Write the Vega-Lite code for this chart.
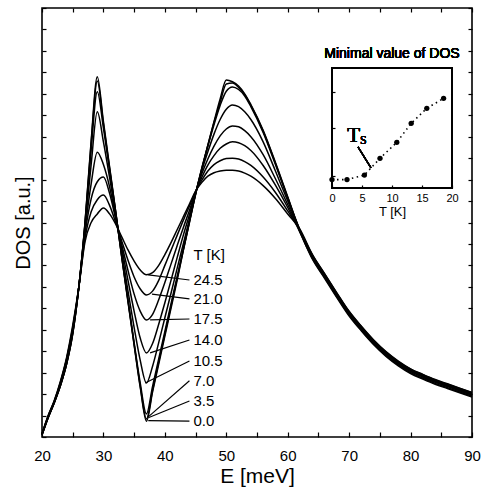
{
  "$schema": "https://vega.github.io/schema/vega-lite/v6.json",
  "width": 430,
  "height": 429,
  "autosize": {"type": "none"},
  "padding": {"left": 42, "top": 8, "right": 17, "bottom": 52},
  "background": "white",
  "config": {
    "view": {"stroke": "black", "strokeWidth": 1.6},
    "font": "Liberation Sans",
    "axis": {"labelColor": "black", "titleColor": "black", "tickColor": "black", "grid": false, "tickWidth": 1.2}
  },
  "resolve": {"scale": {"x": "independent", "y": "independent"}, "axis": {"x": "independent", "y": "independent"}},
  "layer": [
    {
      "resolve": {"axis": {"x": "independent", "y": "independent"}},
      "layer": [
        {
          "data": {"values": [
            {"E":20,"k0":0.5,"k35":0.5,"k70":0.5,"k105":0.6,"k140":0.6,"k175":0.7,"k210":0.7,"k245":0.8},
            {"E":21,"k0":4.5,"k35":4.5,"k70":4.5,"k105":4.6,"k140":4.7,"k175":4.8,"k210":4.9,"k245":5.0},
            {"E":22,"k0":8.0,"k35":8.0,"k70":8.0,"k105":8.1,"k140":8.2,"k175":8.3,"k210":8.4,"k245":8.5},
            {"E":23,"k0":12.0,"k35":12.0,"k70":12.0,"k105":12.2,"k140":12.4,"k175":12.6,"k210":12.8,"k245":13.0},
            {"E":24,"k0":17.0,"k35":17.0,"k70":17.0,"k105":17.3,"k140":17.7,"k175":18.0,"k210":18.2,"k245":18.5},
            {"E":25,"k0":24.0,"k35":24.1,"k70":24.2,"k105":24.5,"k140":25.0,"k175":25.2,"k210":25.5,"k245":26.0},
            {"E":26,"k0":35,"k35":35,"k70":35,"k105":35,"k140":35,"k175":35,"k210":35,"k245":35},
            {"E":27,"k0":50,"k35":49.8,"k70":49.5,"k105":49,"k140":48.2,"k175":47.3,"k210":46.3,"k245":45.5},
            {"E":28,"k0":69,"k35":68.5,"k70":67,"k105":63.5,"k140":59,"k175":55.5,"k210":52.5,"k245":50},
            {"E":29,"k0":84,"k35":83,"k70":80.5,"k105":75.8,"k140":66.4,"k175":59.5,"k210":55.3,"k245":52},
            {"E":30,"k0":73.5,"k35":73,"k70":72,"k105":68.8,"k140":63.5,"k175":60.6,"k210":56.4,"k245":53.4},
            {"E":31,"k0":63,"k35":62.7,"k70":62.2,"k105":60.5,"k140":58.3,"k175":56.8,"k210":54,"k245":52},
            {"E":32,"k0":52.5,"k35":52.4,"k70":52.3,"k105":51.8,"k140":51.3,"k175":50.8,"k210":50,"k245":49.6},
            {"E":33,"k0":41.7,"k35":41.8,"k70":42,"k105":43,"k140":44,"k175":44.7,"k210":45.6,"k245":46.6},
            {"E":34,"k0":31.5,"k35":31.7,"k70":32,"k105":34,"k140":36.5,"k175":38.8,"k210":41.2,"k245":43.6},
            {"E":35,"k0":21.4,"k35":21.6,"k70":22,"k105":25.5,"k140":29.3,"k175":33.3,"k210":37.3,"k245":41},
            {"E":36,"k0":11.5,"k35":11.8,"k70":12.5,"k105":17.8,"k140":23,"k175":29.3,"k210":34.5,"k245":38.9},
            {"E":37,"k0":3.7,"k35":4.2,"k70":5.4,"k105":12.6,"k140":19.6,"k175":27.3,"k210":33.1,"k245":37.8},
            {"E":38,"k0":10.5,"k35":10.9,"k70":11.8,"k105":16.5,"k140":21.8,"k175":28.6,"k210":34,"k245":38.3},
            {"E":39,"k0":17,"k35":17.5,"k70":18.2,"k105":22,"k140":26.3,"k175":32,"k210":36.5,"k245":40},
            {"E":40,"k0":23.5,"k35":24,"k70":24.6,"k105":27.8,"k140":31.3,"k175":36,"k210":40,"k245":42.5},
            {"E":41,"k0":30,"k35":30.5,"k70":31,"k105":33.5,"k140":36.5,"k175":40.3,"k210":43.5,"k245":45.3},
            {"E":42,"k0":36.5,"k35":37,"k70":37.4,"k105":39.3,"k140":41.8,"k175":44.6,"k210":47,"k245":48.3},
            {"E":43,"k0":43.5,"k35":43.5,"k70":43.8,"k105":45,"k140":47,"k175":48.8,"k210":50.5,"k245":51.3},
            {"E":44,"k0":50,"k35":50.1,"k70":50.3,"k105":50.8,"k140":51.8,"k175":52.8,"k210":53.8,"k245":54.3},
            {"E":45,"k0":56.5,"k35":56.6,"k70":56.7,"k105":56.8,"k140":57,"k175":57.1,"k210":57.2,"k245":57.3},
            {"E":46,"k0":62.3,"k35":62.5,"k70":62.6,"k105":62,"k140":61.3,"k175":60.5,"k210":59.8,"k245":59.3},
            {"E":47,"k0":68,"k35":68,"k70":67.8,"k105":66.5,"k140":64.8,"k175":63.4,"k210":62,"k245":60.8},
            {"E":48,"k0":73.5,"k35":73.3,"k70":72.8,"k105":70.6,"k140":67.8,"k175":65.6,"k210":63.5,"k245":61.6},
            {"E":49,"k0":78.8,"k35":78,"k70":77.3,"k105":74,"k140":70.2,"k175":67.3,"k210":64.4,"k245":62},
            {"E":50,"k0":83.2,"k35":82.3,"k70":80.6,"k105":76.4,"k140":71.8,"k175":68.3,"k210":64.9,"k245":62.2},
            {"E":51,"k0":82.8,"k35":82.5,"k70":81.6,"k105":77.4,"k140":72.5,"k175":68.8,"k210":65,"k245":62.2},
            {"E":52,"k0":81.8,"k35":81.5,"k70":81,"k105":77,"k140":72.3,"k175":68.6,"k210":64.8,"k245":62},
            {"E":53,"k0":80,"k35":79.8,"k70":79.5,"k105":75.8,"k140":71.4,"k175":67.9,"k210":64.2,"k245":61.5},
            {"E":54,"k0":77.5,"k35":77.3,"k70":77,"k105":74,"k140":70,"k175":66.8,"k210":63.3,"k245":60.8},
            {"E":56,"k0":71.5,"k35":71.3,"k70":71,"k105":68.8,"k140":65.8,"k175":63.3,"k210":60.6,"k245":58.6},
            {"E":58,"k0":64,"k35":63.8,"k70":63.5,"k105":62,"k140":60.2,"k175":58.7,"k210":57,"k245":55.6},
            {"E":60,"k0":56,"k35":55.8,"k70":55.7,"k105":55,"k140":54.2,"k175":53.5,"k210":52.7,"k245":52},
            {"E":62,"k0":48,"k35":48.2,"k70":47.8,"k105":48.3,"k140":48,"k175":47.7,"k210":48.1,"k245":48.4},
            {"E":64,"k0":42,"k35":42.3,"k70":41.7,"k105":42.5,"k140":42,"k175":41.5,"k210":42.2,"k245":42.6},
            {"E":66,"k0":37.5,"k35":37.8,"k70":37.2,"k105":38,"k140":37.5,"k175":37,"k210":37.7,"k245":38.1},
            {"E":68,"k0":33,"k35":33.3,"k70":32.7,"k105":33.5,"k140":33,"k175":32.5,"k210":33.2,"k245":33.6},
            {"E":70,"k0":28.7,"k35":29,"k70":28.4,"k105":29.2,"k140":28.7,"k175":28.2,"k210":28.9,"k245":29.3},
            {"E":72,"k0":25.2,"k35":25.5,"k70":24.9,"k105":25.7,"k140":25.2,"k175":24.7,"k210":25.4,"k245":25.8},
            {"E":74,"k0":22,"k35":22.3,"k70":21.7,"k105":22.5,"k140":22,"k175":21.5,"k210":22.2,"k245":22.6},
            {"E":76,"k0":19.3,"k35":19.6,"k70":19,"k105":19.8,"k140":19.3,"k175":18.8,"k210":19.5,"k245":19.9},
            {"E":78,"k0":17.1,"k35":17.4,"k70":16.8,"k105":17.6,"k140":17.1,"k175":16.6,"k210":17.3,"k245":17.7},
            {"E":80,"k0":15.3,"k35":15.6,"k70":15,"k105":15.8,"k140":15.3,"k175":14.8,"k210":15.5,"k245":15.9},
            {"E":82,"k0":14,"k35":14.3,"k70":13.7,"k105":14.5,"k140":14,"k175":13.5,"k210":14.2,"k245":14.6},
            {"E":84,"k0":12.8,"k35":13.1,"k70":12.5,"k105":13.3,"k140":12.8,"k175":12.3,"k210":13,"k245":13.4},
            {"E":86,"k0":11.8,"k35":12.1,"k70":11.5,"k105":12.3,"k140":11.8,"k175":11.3,"k210":12,"k245":12.4},
            {"E":88,"k0":10.8,"k35":11.1,"k70":10.5,"k105":11.3,"k140":10.8,"k175":10.3,"k210":11,"k245":11.4},
            {"E":90,"k0":9.8,"k35":10.1,"k70":9.5,"k105":10.3,"k140":9.8,"k175":9.3,"k210":10,"k245":10.4}
          ]},
          "transform": [{"fold": ["k0","k35","k70","k105","k140","k175","k210","k245"], "as": ["T", "v"]}],
          "mark": {"type": "line", "interpolate": "monotone", "stroke": "black", "strokeWidth": 1.5},
          "encoding": {
            "x": {"field": "E", "type": "quantitative", "scale": {"domain": [20, 90], "nice": false, "zero": false},
                  "axis": {"orient": "bottom", "offset": -5, "tickSize": 5, "labelPadding": 11,
                           "values": [20,25,30,35,40,45,50,55,60,65,70,75,80,85,90], "labelExpr": "datum.value % 10 === 0 ? datum.label : ''",
                           "domain": false, "title": "E [meV]", "titleFontSize": 21,
                           "titleFontWeight": "normal", "labelFontSize": 15, "titlePadding": 2, "labelFlush": false, "labelOverlap": false}},
            "y": {"field": "v", "type": "quantitative", "scale": {"domain": [0, 100], "nice": false, "zero": false},
                  "axis": {"orient": "left", "offset": -4, "tickSize": 4,
                           "values": [0,5,10,15,20,25,30,35,40,45,50,55,60,65,70,75,80,85,90,95,100], "labels": false,
                           "domain": false, "title": "DOS [a.u.]", "titleFontSize": 20,
                           "titleFontWeight": "normal", "titlePadding": 8, "minExtent": 0}},
            "detail": {"field": "T", "type": "nominal"}
          }
        },
        {
          "data": {"values": [
            {"T": "24.5", "E1": 37.3, "v1": 37.8, "E2": 44.0, "v2": 36.6},
            {"T": "21.0", "E1": 37.9, "v1": 33.3, "E2": 44.0, "v2": 32.2},
            {"T": "17.5", "E1": 37.6, "v1": 27.3, "E2": 44.0, "v2": 27.5},
            {"T": "14.0", "E1": 37.6, "v1": 19.6, "E2": 44.0, "v2": 22.6},
            {"T": "10.5", "E1": 36.8, "v1": 12.6, "E2": 44.0, "v2": 17.7},
            {"T": "7.0", "E1": 37.3, "v1": 4.7, "E2": 44.0, "v2": 13.1},
            {"T": "3.5", "E1": 37.3, "v1": 4.5, "E2": 44.0, "v2": 8.4},
            {"T": "0.0", "E1": 37.3, "v1": 3.8, "E2": 44.0, "v2": 3.7}
          ]},
          "layer": [
            {
              "mark": {"type": "rule", "stroke": "black", "strokeWidth": 1.2},
              "encoding": {
                "x": {"field": "E1", "type": "quantitative", "axis": null},
                "y": {"field": "v1", "type": "quantitative", "axis": null},
                "x2": {"field": "E2"},
                "y2": {"field": "v2"}
              }
            },
            {
              "mark": {"type": "text", "align": "left", "baseline": "middle", "fontSize": 15, "dx": 4, "color": "black"},
              "encoding": {
                "x": {"field": "E2", "type": "quantitative", "axis": null},
                "y": {"field": "v2", "type": "quantitative", "axis": null},
                "text": {"field": "T"}
              }
            }
          ]
        },
        {
          "data": {"values": [{"label": "T [K]", "E": 44.0, "v": 42.4}]},
          "mark": {"type": "text", "align": "left", "baseline": "middle", "fontSize": 15, "dx": 4, "color": "black"},
          "encoding": {
            "x": {"field": "E", "type": "quantitative",
                  "axis": {"orient": "top", "offset": -4, "tickSize": 4, "labels": false, "domain": false, "title": null,
                           "values": [20,25,30,35,40,45,50,55,60,65,70,75,80,85,90]}},
            "y": {"field": "v", "type": "quantitative",
                  "axis": {"orient": "right", "offset": -4, "tickSize": 4, "labels": false, "domain": false, "title": null, "minExtent": 0,
                           "values": [0,5,10,15,20,25,30,35,40,45,50,55,60,65,70,75,80,85,90,95,100]}},
            "text": {"field": "label"}
          }
        }
      ]
    },
    {
      "data": {"values": [
        {"T": 0, "m": 0.07},
        {"T": 2.5, "m": 0.07},
        {"T": 5.4, "m": 0.108},
        {"T": 8, "m": 0.247},
        {"T": 10.8, "m": 0.381},
        {"T": 13.2, "m": 0.539},
        {"T": 15.8, "m": 0.664},
        {"T": 18.6, "m": 0.747}
      ]},
      "layer": [
        {
          "mark": {"type": "line", "stroke": "black", "strokeWidth": 1.6, "strokeDash": [1.5, 3.5]},
          "encoding": {
            "x": {"field": "T", "type": "quantitative", "scale": {"domain": [0, 20], "range": [290, 410], "nice": false, "zero": false},
                  "axis": {"orient": "bottom", "offset": -252, "tickSize": 3, "labelPadding": 4, "values": [0, 5, 10, 15, 20],
                           "domain": false, "labelFontSize": 11, "title": "T [K]", "titleFontSize": 13, "titleFontWeight": "normal",
                           "titlePadding": 2, "labelFlush": false}},
            "y": {"field": "m", "type": "quantitative", "scale": {"domain": [0, 1], "range": [180, 60], "nice": false, "zero": false},
                  "axis": {"orient": "left", "offset": -293, "tickSize": 3, "values": [0.1, 0.5, 0.8], "labels": false,
                           "domain": false, "title": null, "minExtent": 0}}
          }
        },
        {
          "mark": {"type": "rect", "fill": null, "fillOpacity": 0, "stroke": "black", "strokeWidth": 1.5},
          "encoding": {
            "x": {"datum": 0, "type": "quantitative"},
            "x2": {"datum": 20},
            "y": {"datum": 0, "type": "quantitative"},
            "y2": {"datum": 1}
          }
        },
        {
          "mark": {"type": "point", "filled": true, "color": "black", "size": 28, "opacity": 1},
          "encoding": {
            "x": {"field": "T", "type": "quantitative"},
            "y": {"field": "m", "type": "quantitative"}
          }
        },
        {
          "mark": {"type": "text", "text": "Minimal value of DOS", "fontSize": 14, "align": "center", "baseline": "alphabetic", "dy": -10, "color": "black"},
          "encoding": {
            "x": {"datum": 10, "type": "quantitative"},
            "y": {"datum": 1, "type": "quantitative"}
          }
        },
        {
          "mark": {"type": "text", "text": "T", "font": "Liberation Serif", "fontSize": 21, "align": "center", "baseline": "alphabetic", "color": "black"},
          "encoding": {
            "x": {"datum": 3.6, "type": "quantitative"},
            "y": {"datum": 0.383, "type": "quantitative"}
          }
        },
        {
          "mark": {"type": "text", "text": "S", "font": "Liberation Serif", "fontSize": 12, "align": "left", "baseline": "alphabetic", "color": "black"},
          "encoding": {
            "x": {"datum": 4.67, "type": "quantitative"},
            "y": {"datum": 0.367, "type": "quantitative"}
          }
        },
        {
          "mark": {"type": "rule", "stroke": "black", "strokeWidth": 1.3},
          "encoding": {
            "x": {"datum": 4.33, "type": "quantitative"},
            "y": {"datum": 0.342, "type": "quantitative"},
            "x2": {"datum": 6.5},
            "y2": {"datum": 0.167}
          }
        }
      ]
    }
  ]
}
